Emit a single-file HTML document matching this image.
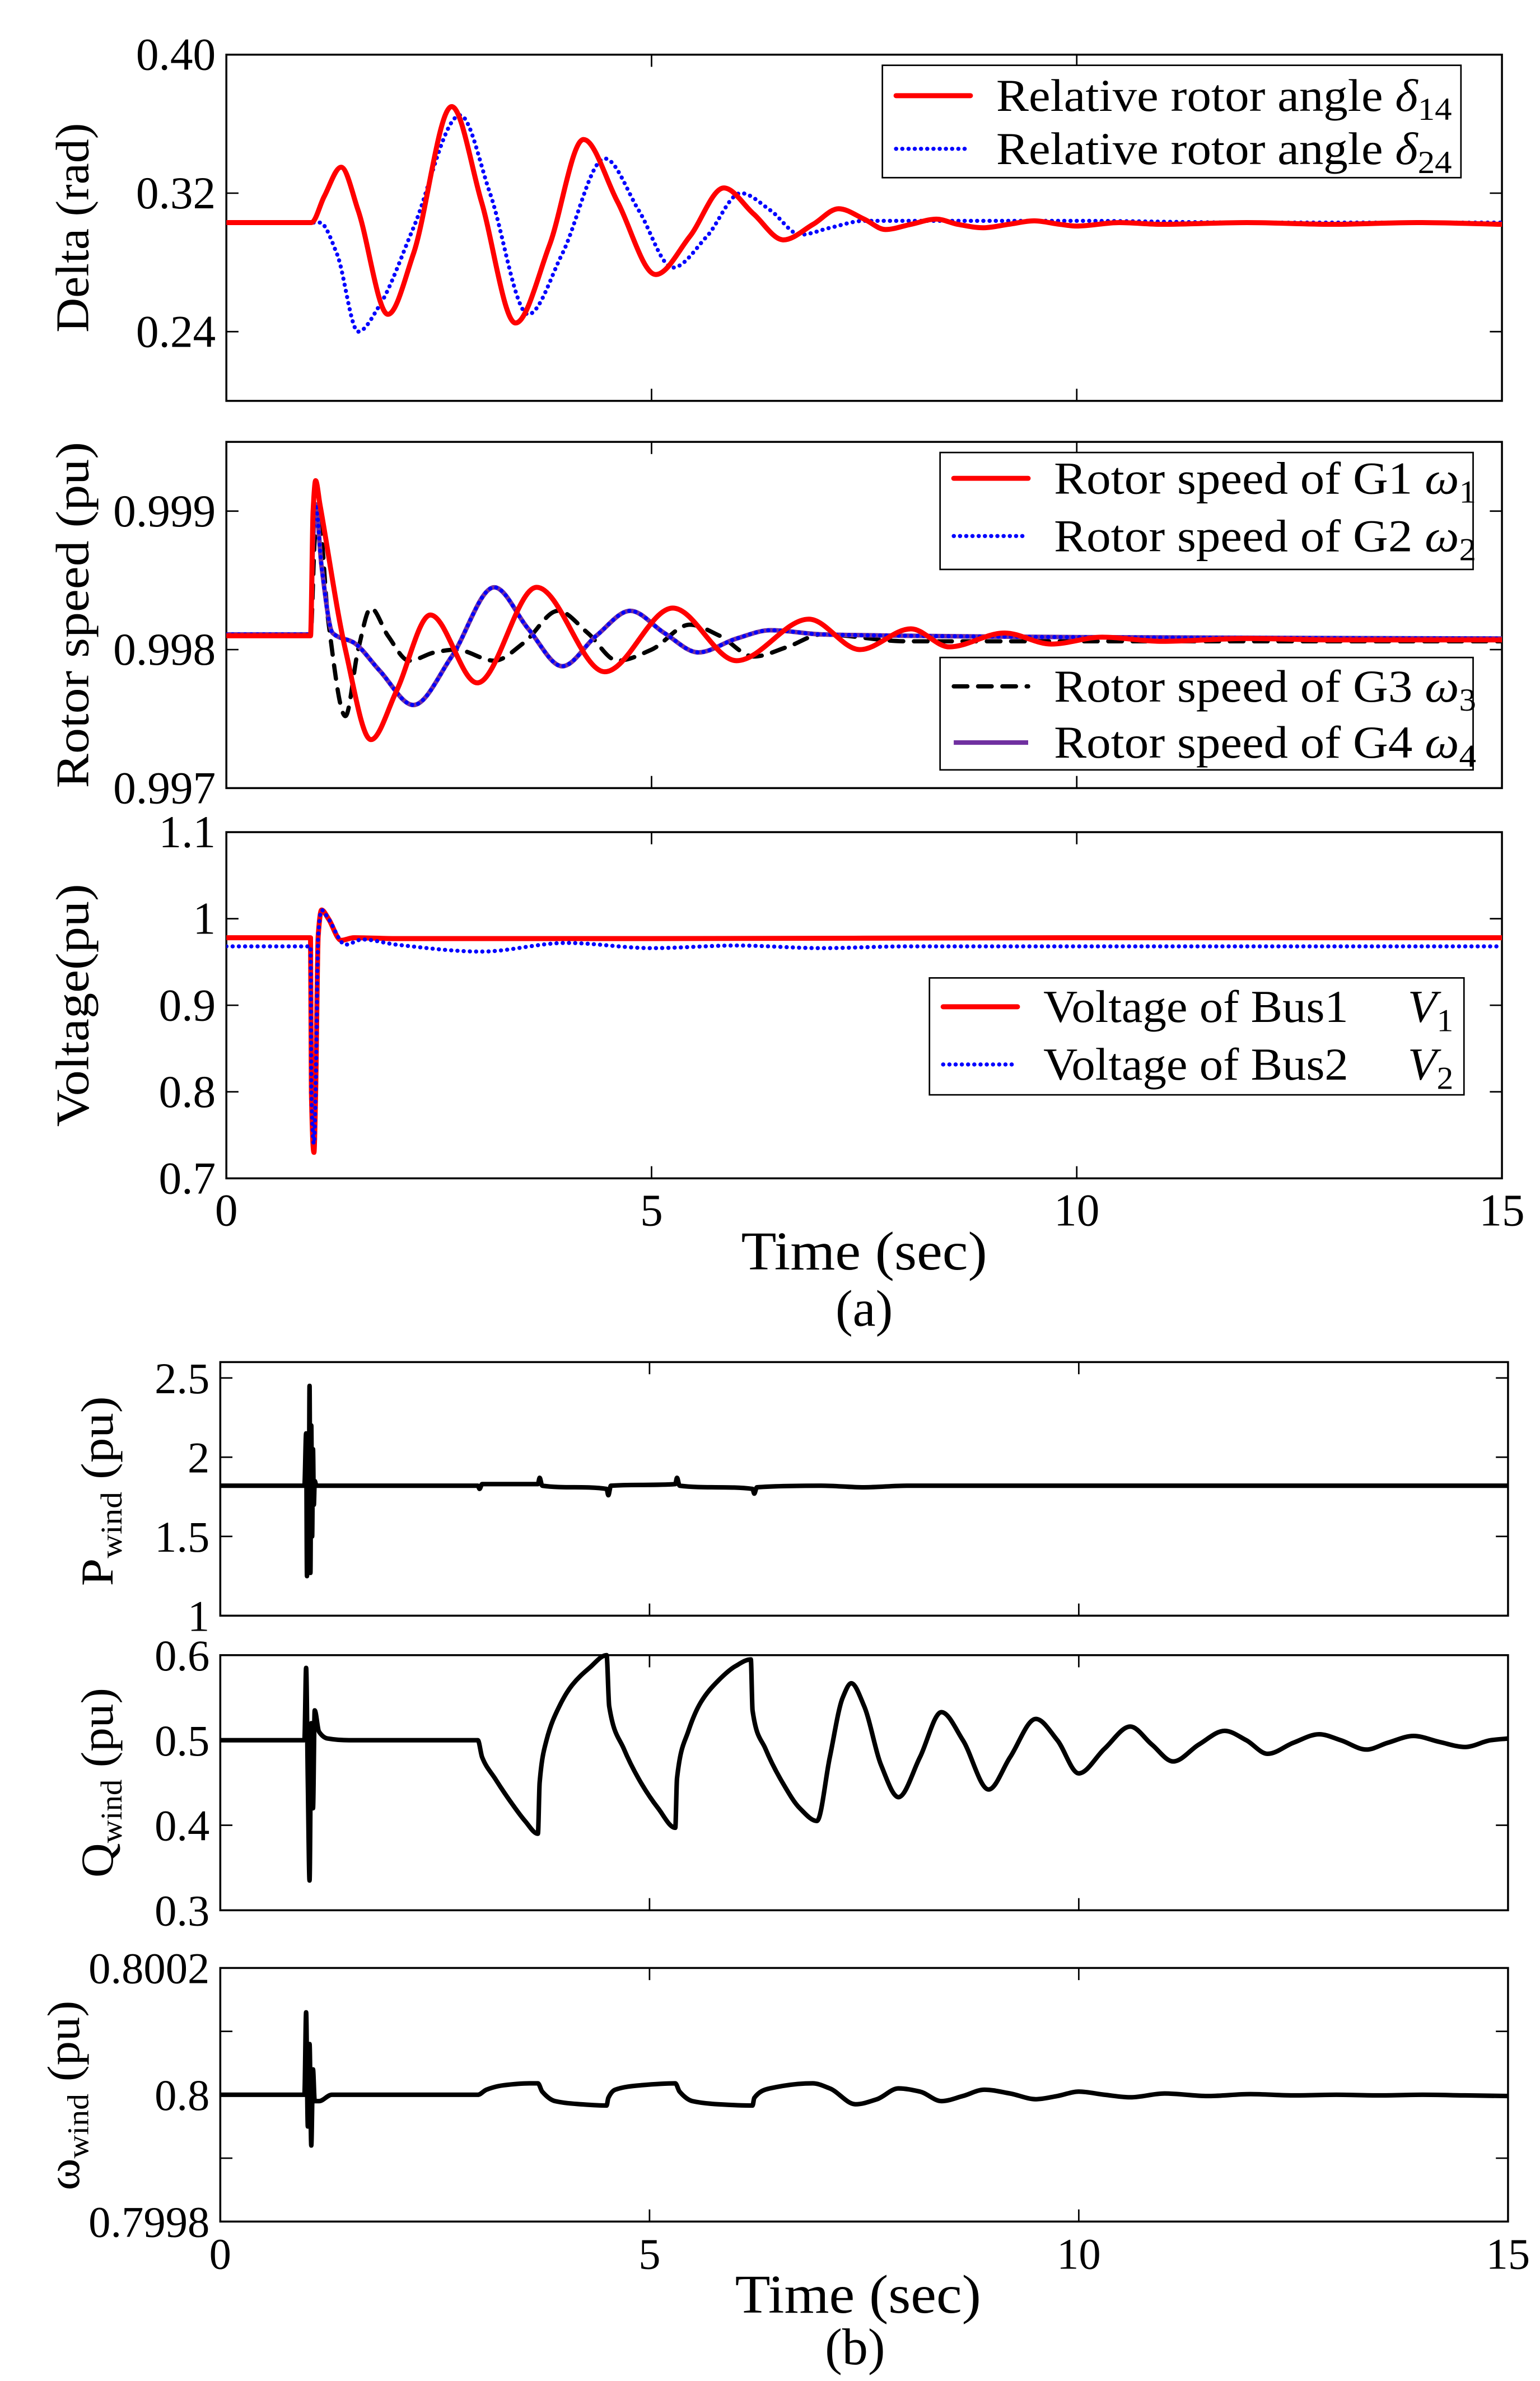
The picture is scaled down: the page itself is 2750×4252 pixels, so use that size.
<!DOCTYPE html>
<html><head><meta charset="utf-8">
<style>
html,body{margin:0;padding:0;background:#fff;}
svg{display:block;}
text{font-family:"Liberation Serif","Times New Roman",serif;fill:#000;}
</style></head>
<body>
<svg id="chart" xmlns="http://www.w3.org/2000/svg" width="2750" height="4252" viewBox="0 0 1014 1568" font-family="Liberation Serif, serif">
<rect x="0" y="0" width="1014" height="1568" fill="#fff"/>
<g id="layer"></g>
</svg>
<script>
// ---------- data ----------
const xTicksA = [0,5,10,15];
const deltaTicks = [0.24,0.32,0.40];
const deltaTickLabels = ["0.24","0.32","0.40"];
const d14T = [0,1.0,1.15,1.35,1.55,1.9,2.2,2.65,3.0,3.4,3.8,4.2,4.6,5.05,5.45,5.85,6.2,6.55,6.9,7.2,7.5,7.75,8.05,8.35,8.6,8.9,9.2,9.5,9.8,10.0,10.5,11,12,13,14,15];
const d14V = [0.303,0.303,0.318,0.335,0.310,0.250,0.285,0.370,0.315,0.245,0.290,0.351,0.315,0.273,0.295,0.323,0.308,0.293,0.302,0.311,0.305,0.299,0.302,0.305,0.302,0.300,0.302,0.304,0.302,0.301,0.303,0.302,0.303,0.302,0.303,0.302];
const d24T = [0,1.1,1.3,1.55,1.8,2.2,2.75,3.1,3.55,3.95,4.45,4.85,5.25,5.65,6.05,6.4,6.75,7.1,7.5,8,9,10,12,15];
const d24V = [0.303,0.303,0.285,0.240,0.255,0.300,0.365,0.320,0.250,0.285,0.340,0.310,0.277,0.295,0.320,0.310,0.296,0.300,0.304,0.304,0.304,0.304,0.303,0.303];

const speedTicks = [0.997,0.998,0.999];
const speedTickLabels = ["0.997","0.998","0.999"];
const w1T = [0,0.99,1.02,1.05,1.1,1.4,1.7,2.0,2.4,2.95,3.65,4.45,5.25,6.0,6.85,7.45,8.05,8.5,9.15,9.7,10.3,11,12,13,15];
const w1V = [0.99810,0.99810,0.99900,0.99922,0.99905,0.99800,0.99735,0.99770,0.99825,0.99776,0.99845,0.99784,0.99830,0.99792,0.99822,0.99800,0.99815,0.99802,0.99812,0.99804,0.99809,0.99806,0.99808,0.99807,0.99807];
const w2T = [0,0.99,1.02,1.05,1.12,1.25,1.5,1.8,2.2,2.65,3.15,3.55,3.95,4.35,4.75,5.15,5.55,6.0,6.4,7,8,10,15];
const w2V = [0.99811,0.99811,0.99880,0.99905,0.99860,0.99812,0.99805,0.99785,0.99760,0.99795,0.99845,0.99815,0.99788,0.99810,0.99828,0.99812,0.99798,0.99808,0.99814,0.99811,0.99810,0.99809,0.99808];
const w3T = [0,0.99,1.04,1.08,1.2,1.4,1.55,1.7,1.9,2.15,2.45,2.7,3.15,3.5,3.9,4.25,4.6,5.0,5.45,5.8,6.2,6.6,7,8,10,15];
const w3V = [0.99810,0.99810,0.99880,0.99900,0.99820,0.99752,0.99800,0.99830,0.99810,0.99792,0.99798,0.99800,0.99792,0.99805,0.99828,0.99812,0.99792,0.99800,0.99818,0.99810,0.99795,0.99802,0.99811,0.99806,0.99806,0.99806];

const voltTicks = [0.7,0.8,0.9,1.0,1.1];
const voltTickLabels = ["0.7","0.8","0.9","1","1.1"];
const v1T = [0,0.99,1.0,1.03,1.05,1.08,1.12,1.2,1.35,1.5,2,5,10,15];
const v1V = [0.978,0.978,0.80,0.73,0.80,0.98,1.010,1.000,0.975,0.978,0.977,0.977,0.978,0.978];
const v2T = [0,0.99,1.0,1.03,1.05,1.08,1.12,1.2,1.4,1.6,2,3,4,5,6,7,8,10,15];
const v2V = [0.968,0.968,0.80,0.74,0.80,0.98,1.010,1.000,0.970,0.976,0.970,0.962,0.972,0.966,0.969,0.966,0.968,0.968,0.968];

const pTicks = [1,1.5,2,2.5];
const pTickLabels = ["1","1.5","2","2.5"];
const pT = [0,0.98,1.0,1.01,1.02,1.03,1.04,1.05,1.06,1.07,1.08,1.09,1.1,1.12,3.0,3.02,3.05,3.7,3.72,3.75,4.5,4.52,4.55,5.3,5.32,5.35,6.2,6.22,6.25,7.0,7.5,8,9,10,15];
const pV = [1.82,1.82,2.15,1.25,2.10,1.40,2.45,1.27,2.20,1.50,2.05,1.70,1.85,1.82,1.82,1.80,1.83,1.83,1.87,1.82,1.80,1.76,1.82,1.83,1.87,1.82,1.80,1.77,1.81,1.82,1.81,1.82,1.82,1.82,1.82];

const qTicks = [0.3,0.4,0.5,0.6];
const qTickLabels = ["0.3","0.4","0.5","0.6"];
const qT = [0,0.98,1.0,1.02,1.04,1.06,1.08,1.1,1.15,1.25,1.5,3.0,3.05,3.2,3.4,3.55,3.7,3.72,3.8,3.95,4.1,4.3,4.5,4.53,4.7,4.9,5.1,5.3,5.32,5.45,5.6,5.8,6.0,6.18,6.2,6.35,6.55,6.75,6.95,7.1,7.25,7.35,7.5,7.7,7.9,8.15,8.4,8.65,8.95,9.2,9.5,9.75,10.0,10.3,10.6,10.85,11.1,11.4,11.7,11.95,12.2,12.5,12.8,13.05,13.35,13.6,13.9,14.2,14.5,14.8,15];
const qV = [0.5,0.5,0.585,0.45,0.335,0.52,0.42,0.535,0.51,0.502,0.5,0.5,0.48,0.455,0.425,0.405,0.39,0.45,0.5,0.54,0.565,0.585,0.6,0.54,0.49,0.45,0.42,0.397,0.455,0.51,0.545,0.57,0.587,0.595,0.535,0.49,0.45,0.42,0.405,0.48,0.55,0.567,0.54,0.47,0.433,0.48,0.533,0.5,0.442,0.48,0.525,0.5,0.461,0.49,0.516,0.495,0.475,0.495,0.511,0.5,0.484,0.497,0.507,0.5,0.489,0.497,0.505,0.498,0.492,0.5,0.502];

const wwTicks = [0.7998,0.7999,0.8,0.8001,0.8002];
const wwTickLabels = ["0.7998","","0.8","","0.8002"];
const wwT = [0,0.98,1.0,1.02,1.04,1.06,1.08,1.1,1.15,1.3,1.5,3.0,3.1,3.3,3.6,3.7,3.75,3.9,4.2,4.5,4.52,4.6,4.9,5.3,5.35,5.5,5.8,6.2,6.22,6.4,6.9,7.1,7.4,7.65,7.9,8.15,8.4,8.65,8.9,9.2,9.5,9.75,10.0,10.3,10.6,11,11.5,12,12.5,13,13.5,14,14.5,15];
const wwV = [0.8,0.8,0.80013,0.79995,0.80008,0.79992,0.80004,0.79999,0.79999,0.8,0.8,0.8,0.800008,0.800015,0.800018,0.800018,0.800005,0.79999,0.799985,0.799983,0.799995,0.800008,0.800015,0.800018,0.800005,0.79999,0.799985,0.799983,0.799995,0.80001,0.800018,0.80001,0.799985,0.799993,0.80001,0.800005,0.79999,0.799998,0.800008,0.800002,0.799993,0.799998,0.800005,0.8,0.799996,0.800002,0.799998,0.800001,0.799999,0.8,0.799999,0.8,0.799999,0.799998];

// ---------- helpers ----------
const NS = "http://www.w3.org/2000/svg";
const layer = document.getElementById('layer');
function mk(tag, attrs, parent){
  const e = document.createElementNS(NS, tag);
  for (const k in attrs) e.setAttribute(k, attrs[k]);
  (parent||layer).appendChild(e);
  return e;
}
function axis(x0,x1,y0,y1,xmin,xmax,ymin,ymax){
  return {
    x: t => x0 + (t-xmin)/(xmax-xmin)*(x1-x0),
    y: v => y1 - (v-ymin)/(ymax-ymin)*(y1-y0),
    x0,x1,y0,y1
  };
}
// monotone cubic (Fritsch-Carlson) through points sorted by x
function monoPath(pts){
  const n = pts.length;
  const dx=[], dy=[], m=[];
  for (let i=0;i<n-1;i++){ dx.push(Math.max(pts[i+1][0]-pts[i][0],1e-6)); dy.push(pts[i+1][1]-pts[i][1]); m.push(dy[i]/dx[i]); }
  const tg = new Array(n);
  tg[0]=m[0]; tg[n-1]=m[n-2];
  for (let i=1;i<n-1;i++){
    if (m[i-1]*m[i]<=0) tg[i]=0;
    else { const w1=2*dx[i]+dx[i-1], w2=dx[i]+2*dx[i-1]; tg[i]=(w1+w2)/(w1/m[i-1]+w2/m[i]); }
  }
  let d = "M"+pts[0][0].toFixed(2)+","+pts[0][1].toFixed(2);
  for (let i=0;i<n-1;i++){
    const h=dx[i]/3;
    d += " C"+(pts[i][0]+h).toFixed(2)+","+(pts[i][1]+tg[i]*h).toFixed(2)+" "+(pts[i+1][0]-h).toFixed(2)+","+(pts[i+1][1]-tg[i+1]*h).toFixed(2)+" "+pts[i+1][0].toFixed(2)+","+pts[i+1][1].toFixed(2);
  }
  return d;
}
function series(ax, T, V, style, name, clipId){
  const pts = T.map((t,i)=>[ax.x(t), ax.y(V[i])]);
  const p = mk('path', Object.assign({d: monoPath(pts), fill:'none', 'stroke-linejoin':'round', 'clip-path':'url(#'+clipId+')'}, style));
  
  
  return p;
}
let clipN = 0;
function frame(ax, xt, yt, ytl, xtl, fs, name, tickLabelX){
  const id = 'clip'+(clipN++);
  const defs = mk('defs',{});
  const cp = mk('clipPath',{id:id},defs);
  mk('rect',{x:ax.x0,y:ax.y0-2,width:ax.x1-ax.x0,height:ax.y1-ax.y0+4},cp);
  const g = mk('g',{});
  
  
  mk('rect',{x:ax.x0,y:ax.y0,width:ax.x1-ax.x0,height:ax.y1-ax.y0,fill:'none',stroke:'#000','stroke-width':1.3},g);
  xt.forEach(t=>{
    const x=ax.x(t);
    mk('line',{x1:x,y1:ax.y1,x2:x,y2:ax.y1-8,stroke:'#000','stroke-width':1},g);
    mk('line',{x1:x,y1:ax.y0,x2:x,y2:ax.y0+8,stroke:'#000','stroke-width':1},g);
  });
  yt.forEach((v,i)=>{
    const y=ax.y(v);
    mk('line',{x1:ax.x0,y1:y,x2:ax.x0+8,y2:y,stroke:'#000','stroke-width':1},g);
    mk('line',{x1:ax.x1,y1:y,x2:ax.x1-8,y2:y,stroke:'#000','stroke-width':1},g);
    if (ytl[i]!==""){
      const tx = mk('text',{x:tickLabelX,y:y+10,'font-size':fs,'text-anchor':'end'},g);
      tx.textContent = ytl[i];
      
      
    }
  });
  if (xtl){
    xt.forEach(t=>{
      const tx = mk('text',{x:ax.x(t),y:ax.y1+31,'font-size':fs,'text-anchor':'middle'},g);
      tx.textContent = String(t);
      
      
    });
  }
  return id;
}
function ylabel(x,y,html,fs,name,len){
  const t = mk('text',{x:0,y:0,'font-size':fs,'text-anchor':'middle',transform:'translate('+x+','+y+') rotate(-90)',textLength:len,lengthAdjust:'spacingAndGlyphs'});
  t.innerHTML = html;
  
  
}
function text(x,y,s,fs,name,anchor,len){
  const a = {x:x,y:y,'font-size':fs,'text-anchor':anchor||'start'};
  if (len){a.textLength=len;a.lengthAdjust='spacingAndGlyphs';}
  const t = mk('text',a);
  t.innerHTML = s;
  
  
  return t;
}
function legend(x,y,w,h,entries,name){
  const g = mk('g',{});
  
  
  mk('rect',{x:x,y:y,width:w,height:h,fill:'#fff',stroke:'#000','stroke-width':1},g);
  entries.forEach(e=>{
    mk('line',Object.assign({x1:x+9,y1:e.y,x2:x+58,y2:e.y},e.style),g);
    const t = mk('text',{x:x+75,y:e.y+10,'font-size':30,textLength:e.len,lengthAdjust:'spacingAndGlyphs'},g);
    t.innerHTML = e.label;
    
    
  });
}
const RED = {stroke:'#ff0000','stroke-width':3.3,'stroke-linecap':'round'};
const BLUE = {stroke:'#0000ff','stroke-width':2.7,'stroke-dasharray':'0.1 4','stroke-linecap':'round'};
const BLACKD = {stroke:'#000','stroke-width':2.8,'stroke-dasharray':'9 7','stroke-linecap':'round'};
const PURPLE = {stroke:'#7030a0','stroke-width':3.0};
const BLACK = {stroke:'#000','stroke-width':3.0};

// ---------- panel a1: delta ----------
const a1 = axis(149,989,36,264,0,15,0.2,0.4);
let c = frame(a1,xTicksA,deltaTicks,deltaTickLabels,false,30,'delta-axes',142);
series(a1,d24T,d24V,BLUE,'delta24-line',c);
series(a1,d14T,d14V,RED,'delta14-line',c);
ylabel(58,150,'Delta (rad)',31,'delta-y-axis-title',138);
legend(581,43,381,74,[
  {y:63,style:RED,label:'Relative rotor angle <tspan font-style="italic">δ</tspan><tspan font-size="21" dy="6">14</tspan>',len:300},
  {y:98,style:BLUE,label:'Relative rotor angle <tspan font-style="italic">δ</tspan><tspan font-size="21" dy="6">24</tspan>',len:300}
],'delta-legend');

// ---------- panel a2: rotor speed ----------
const a2 = axis(149,989,291,519,0,15,0.997,0.9995);
c = frame(a2,xTicksA,speedTicks,speedTickLabels,false,30,'rotor-speed-axes',142);
series(a2,w3T,w3V,BLACKD,'g3-speed-line',c);
series(a2,w2T,w2V,PURPLE,'g4-speed-line',c);
series(a2,w2T,w2V,BLUE,'g2-speed-line',c);
series(a2,w1T,w1V,RED,'g1-speed-line',c);
ylabel(58,405,'Rotor speed (pu)',31,'rotor-speed-y-axis-title',228);
legend(619,298,351,77,[
  {y:315,style:RED,label:'Rotor speed of G1 <tspan font-style="italic">ω</tspan><tspan font-size="21" dy="6">1</tspan>',len:278},
  {y:353,style:BLUE,label:'Rotor speed of G2 <tspan font-style="italic">ω</tspan><tspan font-size="21" dy="6">2</tspan>',len:278}
],'rotor-speed-legend-1');
legend(619,433,351,74,[
  {y:452,style:BLACKD,label:'Rotor speed of G3 <tspan font-style="italic">ω</tspan><tspan font-size="21" dy="6">3</tspan>',len:278},
  {y:489,style:PURPLE,label:'Rotor speed of G4 <tspan font-style="italic">ω</tspan><tspan font-size="21" dy="6">4</tspan>',len:278}
],'rotor-speed-legend-2');

// ---------- panel a3: voltage ----------
const a3 = axis(149,989,548,776,0,15,0.7,1.1);
c = frame(a3,xTicksA,voltTicks,voltTickLabels,true,30,'voltage-axes',142);
series(a3,v1T,v1V,RED,'bus1-voltage-line',c);
series(a3,v2T,v2V,BLUE,'bus2-voltage-line',c);
ylabel(58,662,'Voltage(pu)',31,'voltage-y-axis-title',160);
legend(612,644,352,77,[
  {y:663,style:RED,label:'Voltage of Bus1 <tspan dx="30" font-style="italic">V</tspan><tspan font-size="21" dy="6">1</tspan>',len:270},
  {y:701,style:BLUE,label:'Voltage of Bus2 <tspan dx="30" font-style="italic">V</tspan><tspan font-size="21" dy="6">2</tspan>',len:270}
],'voltage-legend');
text(569,836,'Time (sec)',36,'x-axis-title-a','middle',162);
text(569,873,'(a)',34,'caption-a','middle');

// ---------- panel b1: P wind ----------
const xTicksB = [0,5,10,15];
const b1 = axis(145,993,897,1064,0,15,1,2.6);
c = frame(b1,xTicksB,pTicks,pTickLabels,false,29,'p-wind-axes',138);
series(b1,pT,pV,BLACK,'p-wind-line',c);
ylabel(74,982,'P<tspan font-size="20" dy="6">wind</tspan><tspan dy="-6"> (pu)</tspan>',30,'p-wind-y-axis-title',125);

// ---------- panel b2: Q wind ----------
const b2 = axis(145,993,1090,1258,0,15,0.3,0.6);
c = frame(b2,xTicksB,qTicks,qTickLabels,false,29,'q-wind-axes',138);
series(b2,qT,qV,BLACK,'q-wind-line',c);
ylabel(74,1174,'Q<tspan font-size="20" dy="6">wind</tspan><tspan dy="-6"> (pu)</tspan>',30,'q-wind-y-axis-title',125);

// ---------- panel b3: omega wind ----------
const b3 = axis(145,993,1296,1463,0,15,0.7998,0.8002);
c = frame(b3,xTicksB,wwTicks,wwTickLabels,true,29,'omega-wind-axes',138);
series(b3,wwT,wwV,BLACK,'omega-wind-line',c);
ylabel(52,1380,'ω<tspan font-size="20" dy="6">wind</tspan><tspan dy="-6"> (pu)</tspan>',30,'omega-wind-y-axis-title',125);
text(565,1523,'Time (sec)',36,'x-axis-title-b','middle',162);
text(563,1557,'(b)',34,'caption-b','middle');
</script>
</body></html>
